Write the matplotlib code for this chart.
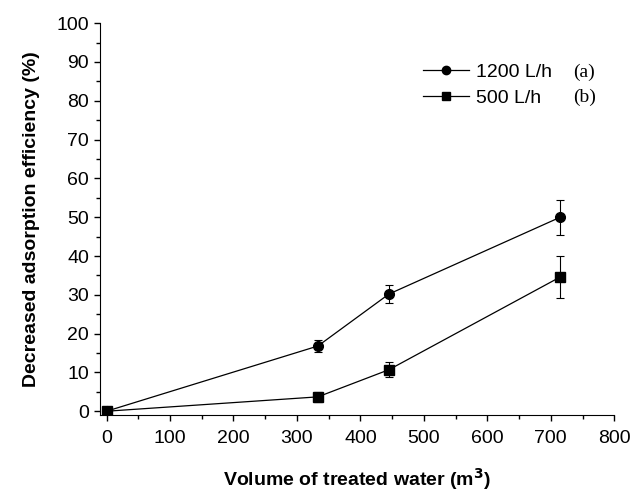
import matplotlib
matplotlib.use("Agg")
import matplotlib.pyplot as plt
from matplotlib.ticker import MultipleLocator
from matplotlib.lines import Line2D

plt.rcParams['font.family'] = ['Liberation Sans', 'DejaVu Sans']

# data
volume = [0, 333, 445, 715]
eff_1200 = [0, 16.8, 30.2, 50.0]
err_1200 = [0, 1.5, 2.2, 4.5]
eff_500 = [0, 3.7, 10.7, 34.6]
err_500 = [0, 1.2, 2.0, 5.3]
labels = ['1200 L/h', '500 L/h']
tags = ['(a)', '(b)']

fig = plt.figure(figsize=(6.3, 4.93), dpi=100)
ax = fig.add_axes([0.159, 0.158, 0.816, 0.795])

ax.errorbar(volume, eff_1200, yerr=err_1200, color='black', marker='o', markersize=7,
            linewidth=0.9, elinewidth=0.8, capsize=3, capthick=0.8)
ax.errorbar(volume, eff_500, yerr=err_500, color='black', marker='s', markersize=6.5,
            linewidth=0.9, elinewidth=0.8, capsize=3, capthick=0.8)

ax.set_xlim(-10, 800)
ax.set_ylim(-1, 100)
ax.xaxis.set_major_locator(MultipleLocator(100))
ax.xaxis.set_minor_locator(MultipleLocator(50))
ax.yaxis.set_major_locator(MultipleLocator(10))
ax.yaxis.set_minor_locator(MultipleLocator(5))
ax.tick_params(which='major', direction='out', length=4.5, width=1, labelsize=14)
ax.tick_params(which='minor', direction='out', length=3, width=1)
ax.tick_params(axis='x', which='major', pad=6)

ax.spines['top'].set_visible(False) #remove line on top
ax.spines['right'].set_visible(False) #remove line on right

ax.set_xlabel('Volume of treated water (m$^\\mathbf{3}$)', fontsize=14, fontweight='bold', labelpad=14)
ax.set_ylabel('Decreased adsorption efficiency (%)', fontsize=14, fontweight='bold', labelpad=12)

# legend handles without the error bars
handles = [Line2D([], [], color='black', marker='o', markersize=6, linewidth=0.9),
           Line2D([], [], color='black', marker='s', markersize=5.5, linewidth=0.9)]
fig.legend(handles, labels, loc='upper left', bbox_to_anchor=(0.671, 0.872),
           bbox_transform=fig.transFigure, frameon=False, fontsize=14, borderpad=0,
           borderaxespad=0, handlelength=2.4, handletextpad=0.35, labelspacing=0.45)

fig.text(0.910, 0.854, tags[0], fontsize=14, family='Liberation Serif', va='center')
fig.text(0.910, 0.803, tags[1], fontsize=14, family='Liberation Serif', va='center')

plt.savefig('out.png', dpi=100)
